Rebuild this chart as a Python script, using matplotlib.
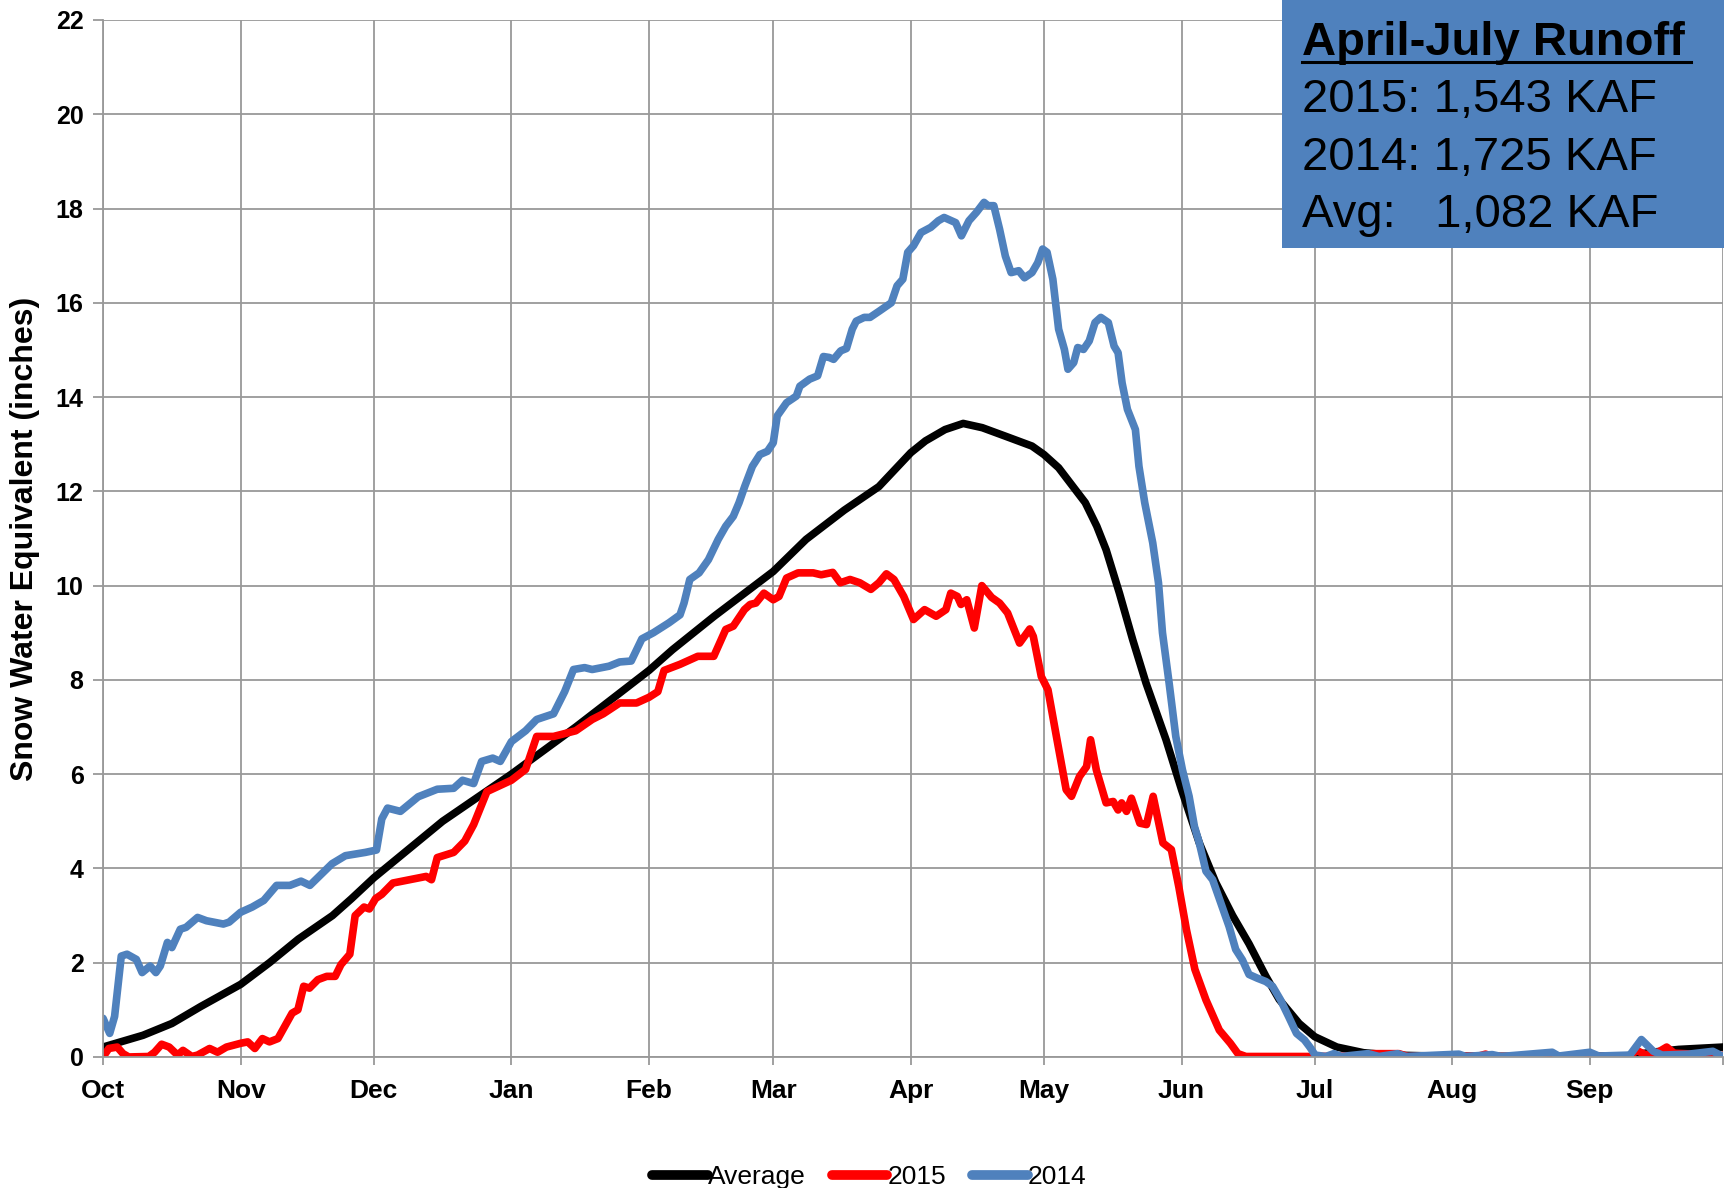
import matplotlib.pyplot as plt
from matplotlib.patches import Rectangle
from matplotlib.lines import Line2D

plt.rcParams["font.family"] = ["Liberation Sans", "DejaVu Sans"]

# water-year day (0 = Oct 1) and snow water equivalent (inches)
month_start = [0, 31, 61, 92, 123, 151, 182, 212, 243, 273, 304, 335, 365]
month_names = ["Oct", "Nov", "Dec", "Jan", "Feb", "Mar", "Apr", "May", "Jun", "Jul", "Aug", "Sep", ""]

avg_day = [0, 9, 15.5, 22, 31, 37.5, 44, 51.7, 56, 61, 76.5, 92, 106.5, 123, 128.3, 137.7,
           151, 158.4, 167, 174.8, 182, 185.3, 189.7, 193.8, 198.1, 203.3, 209.3, 212, 215.3,
           221.3, 223.9, 226, 229, 232, 235, 239.5, 243, 247, 250.7, 254.5, 258.2, 262, 265,
           269.5, 273, 278, 284, 290, 300, 320, 343, 349, 355, 365]
avg_swe = [0.21, 0.46, 0.71, 1.07, 1.54, 2.0, 2.5, 3.0, 3.36, 3.8, 5.0, 6.0, 7.0, 8.2, 8.64, 9.35,
           10.3, 10.98, 11.6, 12.1, 12.82, 13.07, 13.31, 13.44, 13.35, 13.17, 12.96, 12.78, 12.5,
           11.76, 11.26, 10.76, 9.84, 8.85, 7.93, 6.73, 5.67, 4.54, 3.7, 3.0, 2.4, 1.71, 1.22,
           0.71, 0.43, 0.21, 0.09, 0.04, 0.02, 0.01, 0.02, 0.1, 0.16, 0.21]

wy2015_day = [0, 1.3, 3.2, 4.5, 5.8, 10.3, 11.6, 13.2, 14.9, 16.8, 18, 20, 21.3, 24, 25.8, 27.8,
              31, 32.6, 34.2, 35.9, 37.5, 39.4, 41.3, 42.6, 43.9, 45.2, 46.5, 48.4, 50.4, 52.3,
              53.6, 55.6, 56.8, 58.8, 60, 61.4, 62.8, 65.3, 69, 72.8, 74, 75.3, 79, 81.5, 83.5,
              86.5, 92, 95.2, 97.7, 101.5, 106.5, 110.2, 112.7, 116.4, 120.2, 123, 125, 126.4,
              130, 134, 137.6, 140.3, 142, 144.5, 145.8, 147.1, 148.9, 151, 152.3, 154, 156.6,
              160, 161.8, 164.4, 166.1, 168.3, 170.5, 173, 174.8, 176.5, 178.2, 180.4, 182.6,
              185.1, 187.7, 189.9, 191, 192.5, 193.3, 194.6, 196.3, 198, 200.2, 202, 203.8,
              206.5, 208.8, 209.6, 211.4, 212.9, 214.8, 217, 218.2, 220, 221.6, 222.5, 223.8,
              226, 227.6, 228.7, 229.5, 230.6, 231.7, 233.6, 235.1, 236.6, 238.8, 240.7, 242.4,
              244.1, 246, 248.5, 251.5, 254, 255.7, 257.5, 273, 284, 286, 292, 294, 310, 311.5,
              313, 344, 345.5, 347.5, 350, 352.3, 354, 365]
wy2015_swe = [0, 0.18, 0.21, 0.07, 0, 0.01, 0.1, 0.27, 0.21, 0.04, 0.14, 0.01, 0.04, 0.18, 0.1, 0.21,
              0.29, 0.32, 0.18, 0.39, 0.32, 0.39, 0.71, 0.93, 1.0, 1.5, 1.46, 1.64, 1.71, 1.71,
              1.96, 2.18, 3.0, 3.18, 3.14, 3.36, 3.45, 3.69, 3.76, 3.83, 3.76, 4.23, 4.34, 4.58, 4.93,
              5.63, 5.87, 6.1, 6.8, 6.8, 6.92, 7.16, 7.28, 7.51, 7.51, 7.63, 7.75, 8.2,
              8.33, 8.5, 8.5, 9.07, 9.14, 9.49, 9.6, 9.63, 9.84, 9.7, 9.77, 10.16, 10.27,
              10.27, 10.23, 10.28, 10.06, 10.13, 10.06, 9.92, 10.06, 10.25, 10.13, 9.77, 9.28,
              9.49, 9.35, 9.49, 9.84, 9.77, 9.6, 9.7, 9.1, 10.0, 9.75, 9.63, 9.42,
              8.78, 9.08, 8.92, 8.07, 7.79, 6.8, 5.67, 5.53, 5.95, 6.16, 6.73, 6.09,
              5.39, 5.42, 5.24, 5.39, 5.21, 5.49, 4.96, 4.93, 5.53, 4.54, 4.4, 3.6,
              2.7, 1.86, 1.21, 0.57, 0.29, 0.07, 0.01, 0.01, 0.02, 0.07, 0.07, 0.01, 0.02, 0.06,
              0.01, 0.01, 0.14, 0.05, 0.08, 0.21, 0.08, 0.03]

wy2014_day = [0, 1.5, 2.6, 4.1, 5.4, 7.5, 8.8, 10.6, 11.9, 12.9, 14.5, 15.5, 17.4, 18.7, 21.3, 23.3,
              27.1, 28.4, 31, 33.6, 36.2, 39.1, 42.1, 44.6, 46.6, 49.1, 51.6, 54.6, 59.1, 61.6,
              62.8, 64.1, 67, 71, 75.3, 79, 81, 83.5, 85.3, 87.8, 89.5, 92, 95.2, 97.7, 101.5,
              104, 106, 108.5, 110.2, 114, 116.4, 119, 121.4, 124, 127.5, 130, 130.9, 132.2,
              134.3, 136.4, 138.6, 140.3, 142, 143.3, 144.6, 146.3, 148, 149.7, 151, 151.9, 154,
              156.2, 157, 159.2, 161, 162.3, 163.6, 164.6, 166.2, 167.5, 168.8, 169.7, 171.5,
              172.8, 175, 177.6, 178.9, 180.2, 181.3, 182.6, 184.3, 186.5, 188.2, 189.5, 192.1,
              193.4, 195.1, 196.8, 198.5, 199.4, 200.7, 202, 203.3, 204.6, 206.3, 207.6, 209.3,
              210.6, 211.7, 212.7, 214, 215.3, 216.6, 217.4, 218.7, 219.6, 220.9, 222.2, 223.5,
              224.8, 226.5, 227.8, 228.7, 229.6, 230.8, 232.6, 233.4, 234.7, 236.5, 237.8, 238.7,
              240.2, 241.7, 243.2, 244.7, 245.9, 247, 248.5, 250, 251.5, 253.7, 255.2, 256.7,
              258.2, 260.1, 262, 263.5, 265.3, 267.1, 268.9, 270.7, 271.9, 273.1, 275.5, 277.3,
              279, 285, 287.5, 291.7, 293.5, 305.5, 307, 313, 315, 326.5, 328, 335, 337, 344,
              346.6, 349.3, 351.3, 357.3, 362.7, 365]
wy2014_swe = [0.82, 0.5, 0.86, 2.14, 2.18, 2.07, 1.79, 1.93, 1.79, 1.93, 2.43, 2.32, 2.71, 2.75, 2.96, 2.89,
              2.82, 2.86, 3.07, 3.18, 3.32, 3.64, 3.64, 3.73, 3.64, 3.87, 4.1, 4.27, 4.34, 4.39,
              5.05, 5.28, 5.21, 5.52, 5.68, 5.7, 5.87, 5.8, 6.27, 6.34, 6.27, 6.69, 6.92, 7.16, 7.28,
              7.75, 8.22, 8.26, 8.22, 8.29, 8.38, 8.4, 8.87, 9.0, 9.21, 9.38, 9.63, 10.13,
              10.27, 10.55, 10.98, 11.26, 11.47, 11.76, 12.11, 12.53, 12.78, 12.85, 13.03, 13.6, 13.88,
              14.02, 14.23, 14.38, 14.45, 14.86, 14.84, 14.8, 14.98, 15.03, 15.44, 15.61, 15.69,
              15.69, 15.83, 16.0, 16.36, 16.5, 17.07, 17.21, 17.49, 17.6, 17.74, 17.81, 17.7,
              17.42, 17.74, 17.92, 18.13, 18.06, 18.06, 17.56, 16.99, 16.64, 16.68, 16.53, 16.64,
              16.85, 17.14, 17.07, 16.5, 15.44, 15.01, 14.59, 14.73, 15.05, 15.01, 15.19, 15.58,
              15.69, 15.58, 15.08, 14.94, 14.3, 13.74, 13.31, 12.53, 11.76, 10.91, 10.06, 9.0,
              7.93, 6.8, 6.09, 5.53, 4.89, 4.54, 3.94, 3.76, 3.36, 2.77, 2.28, 2.06,
              1.75, 1.67, 1.6, 1.5, 1.21, 0.86, 0.5, 0.36, 0.21, 0.04, 0.01, 0.07,
              0.01, 0.07, 0.01, 0.07, 0.01, 0.06, 0.01, 0.05, 0.01, 0.1, 0.02, 0.1, 0.02, 0.04,
              0.37, 0.12, 0.04, 0.06, 0.12, 0.01]

runoff_title = "April-July Runoff"
runoff_lines = ["2015: 1,543 KAF", "2014: 1,725 KAF", "Avg:   1,082 KAF"]

fig = plt.figure(figsize=(17.35, 11.88), dpi=100)
ax = fig.add_axes([0.0594, 0.1103, 0.9337, 0.8729])

lw = 5.5
ax.plot(avg_day, avg_swe, color="black", lw=lw, label="Average", solid_joinstyle="round", solid_capstyle="round")
ax.plot(wy2015_day, wy2015_swe, color="#FF0000", lw=lw, label="2015", solid_joinstyle="round", solid_capstyle="round")
ax.plot(wy2014_day, wy2014_swe, color="#4F81BD", lw=lw, label="2014", solid_joinstyle="round", solid_capstyle="round")

ax.set_xlim(0, 365)
ax.set_ylim(0, 22)
ax.set_xticks(month_start)
ax.set_xticklabels(month_names)
ax.set_yticks(range(0, 23, 2))
ax.grid(True, color="#999999", lw=1.3)
ax.set_axisbelow(True)
for side in ["top", "right"]:
    ax.spines[side].set_visible(False)
for side in ["left", "bottom"]:
    ax.spines[side].set_color("#999999")
    ax.spines[side].set_linewidth(1.3)
ax.tick_params(axis="y", length=7, width=1.3, color="#999999", pad=7, labelsize=18)
ax.tick_params(axis="x", length=6, width=1.3, color="#999999", pad=10, labelsize=19)
for lab in ax.get_xticklabels() + ax.get_yticklabels():
    lab.set_fontweight("bold")

ax.set_ylabel("Snow Water Equivalent (inches)", fontsize=23, fontweight="bold")
ax.yaxis.set_label_coords(-0.039, 0.5)

leg = ax.legend(loc="center", bbox_to_anchor=(0.501, 0.009), bbox_transform=fig.transFigure,
                ncol=3, frameon=False, fontsize=19, handlelength=2.1, handletextpad=0.0,
                columnspacing=1.0)
for h in leg.get_lines():
    h.set_linewidth(7)
    h.set_solid_capstyle("round")

# runoff box in the upper right
W, H = 1735.0, 1188.0
fig.add_artist(Rectangle((1282 / W, 1 - 248 / H), (1724 - 1282) / W, 248 / H,
                         transform=fig.transFigure, facecolor="#4F81BD", edgecolor="none", zorder=5))
fig.text(1302 / W, 1 - 55 / H, runoff_title, fontsize=34, fontweight="bold", va="baseline", zorder=6)
fig.add_artist(Line2D([1302 / W, 1691 / W], [1 - 62 / H, 1 - 62 / H], transform=fig.transFigure,
                      color="black", lw=2.2, zorder=6))
for i, line in enumerate(runoff_lines):
    fig.text(1302 / W, 1 - (112 + 57.5 * i) / H, line, fontsize=34, va="baseline", zorder=6)

fig.savefig("out.png", dpi=100)
